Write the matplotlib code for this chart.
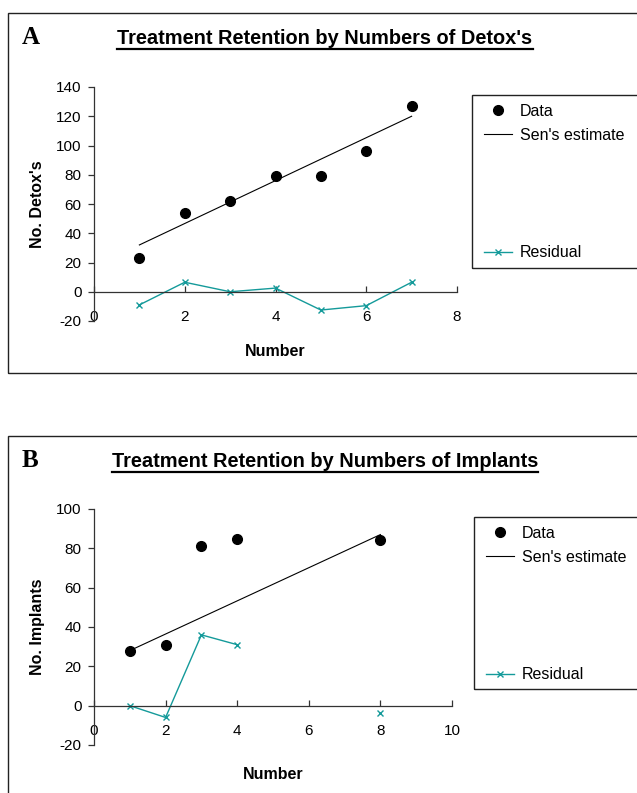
import numpy as np
import matplotlib
matplotlib.use("Agg")
import matplotlib.pyplot as plt
from matplotlib.patches import Rectangle
from matplotlib.lines import Line2D

plt.rcParams['font.family'] = ['Liberation Sans', 'DejaVu Sans']
plt.rcParams['axes.unicode_minus'] = False

# panel A: detox
xa = [1, 2, 3, 4, 5, 6, 7]
data_a = [23, 54, 62, 79, 79, 96, 127]
sen_x_a = [1, 7]
sen_y_a = [32, 120]
resid_a = [-9, 6.5, 0, 2.5, -12.5, -9.5, 6.5]

# panel B: implants (no values for 5-7)
xb = [1, 2, 3, 4, 5, 6, 7, 8]
data_b = [28, 31, 81, 85, np.nan, np.nan, np.nan, 84]
sen_x_b = [1, 8]
sen_y_b = [28, 87]
resid_b = [0, -6, 36, 31, np.nan, np.nan, np.nan, -3.5]

W, H = 637, 793
TEAL = '#149a9a'
fig = plt.figure(figsize=(W / 100, H / 100), dpi=100)

def px(x, y):
    return x / W, 1 - y / H

def panel(letter, title, ylabel, rect, title_y, x, d, sx, sy, r,
          xmax, ymin, ymax, leg_box, leg_anchor, frame, xlab_y):
    # outer frame
    fx0, fy0, fx1, fy1 = frame
    fig.patches.append(Rectangle(px(fx0, fy1), (fx1 - fx0) / W, (fy1 - fy0) / H,
                                 transform=fig.transFigure, fill=False,
                                 edgecolor='#222222', lw=1.0))
    l, t, r_, b = rect
    ax = fig.add_axes([l / W, 1 - b / H, (r_ - l) / W, (b - t) / H])
    ax.plot(x, d, 'o', color='black', ms=7, label='Data')
    ax.plot(sx, sy, '-', color='black', lw=0.8, label="Sen's estimate")
    ax.plot(x, r, '-x', color=TEAL, lw=1.0, ms=5, mew=1.0, label='Residual')
    ax.set_xlim(0, xmax)
    ax.set_ylim(ymin, ymax)
    ax.set_xticks(range(0, xmax + 1, 2))
    ax.set_yticks(range(ymin, ymax + 1, 20))
    ax.spines['left'].set_position(('data', 0))
    ax.spines['bottom'].set_position(('data', 0))
    for s in ['top', 'right']:
        ax.spines[s].set_visible(False)
    for s in ['left', 'bottom']:
        ax.spines[s].set_color('#333333')
        ax.spines[s].set_linewidth(0.9)
    ax.tick_params(axis='x', direction='in', length=4, width=0.9, pad=13,
                   labelsize=11, colors='#333333', labelcolor='black')
    ax.tick_params(axis='y', direction='out', length=4, width=0.9, pad=5,
                   labelsize=11, colors='#333333', labelcolor='black')
    ax.patch.set_alpha(0)
    ax.set_ylabel(ylabel, fontsize=11.5, fontweight='bold')
    ax.yaxis.set_label_coords((45 - l) / (r_ - l), 0.5)
    ax.set_xlabel('Number', fontsize=11.5, fontweight='bold')
    ax.xaxis.set_label_coords(0.5, (b - xlab_y) / (b - t))

    # legend frame and entries
    lx0, ly0, lx1, ly1 = leg_box
    fig.patches.append(Rectangle(px(lx0, ly1), (lx1 - lx0) / W, (ly1 - ly0) / H,
                                 transform=fig.transFigure, fill=False,
                                 edgecolor='#222222', lw=1.0))
    h, lab = ax.get_legend_handles_labels()
    blank = Line2D([], [], linestyle='none')
    handles = [h[0], h[1], blank, blank, blank, blank, h[2]]
    labels = [lab[0], lab[1], ' ', ' ', ' ', ' ', lab[2]]
    ax.legend(handles, labels, loc='upper left', bbox_to_anchor=px(*leg_anchor),
              bbox_transform=fig.transFigure, frameon=False, fontsize=11.5,
              handlelength=1.75, handletextpad=0.5, labelspacing=0.535,
              borderpad=0, borderaxespad=0)

    tt = fig.text(325 / W, 1 - title_y / H, title, ha='center', va='baseline',
                  fontsize=14.4, fontweight='bold')
    fig.text(22 / W, 1 - title_y / H, letter, ha='left', va='baseline',
             fontsize=18, fontweight='bold', family='Liberation Serif')
    return ax, tt

axa, tta = panel('A', "Treatment Retention by Numbers of Detox's", "No. Detox's",
                 (94, 87, 457, 321), 44, xa, data_a, sen_x_a, sen_y_a, resid_a,
                 8, -20, 140, (472, 95, 650, 268), (484, 104), (8, 13, 650, 373),
                 344)
axb, ttb = panel('B', 'Treatment Retention by Numbers of Implants', 'No. Implants',
                 (94, 509, 452, 745), 467, xb, data_b, sen_x_b, sen_y_b, resid_b,
                 10, -20, 100, (474, 517, 650, 689), (486, 526), (8, 436, 650, 810),
                 767)

# underline the titles
fig.canvas.draw()
r = fig.canvas.get_renderer()
for tt in (tta, ttb):
    bb = tt.get_window_extent(r)
    y = bb.y0 - 1
    fig.add_artist(Line2D([bb.x0 / W, bb.x1 / W], [y / H, y / H],
                          transform=fig.transFigure, color='black', lw=1.6))

fig.savefig('out.png', dpi=100)
